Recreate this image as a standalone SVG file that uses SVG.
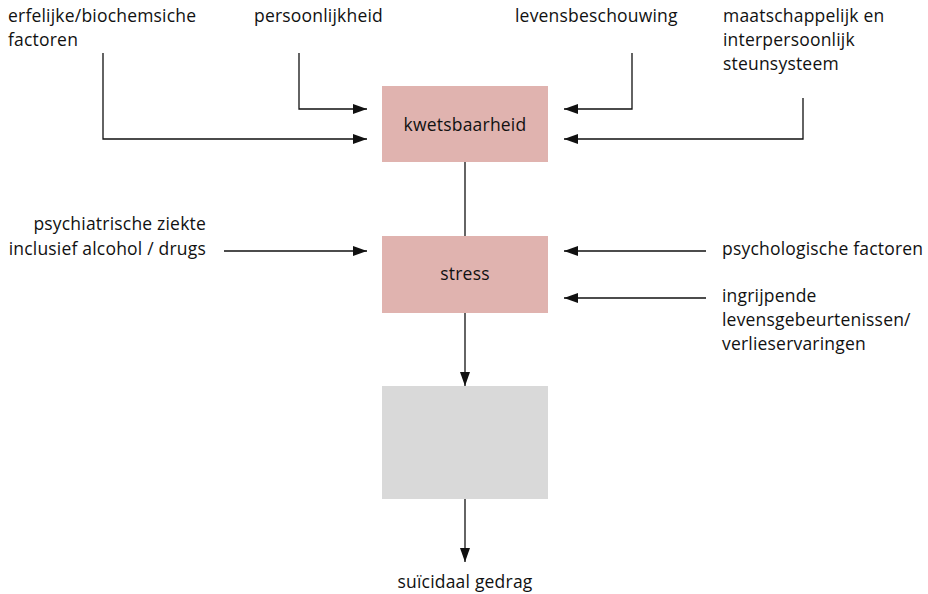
<svg xmlns="http://www.w3.org/2000/svg" width="928" height="594" viewBox="0 0 928 594">
<style>
text{font-family:"Open Sans","Noto Sans",sans-serif;font-size:17.5px;letter-spacing:0.2px;fill:#111}
.c{text-anchor:middle}
.r{text-anchor:end}
.ln{fill:none;stroke:#111;stroke-width:1.3}
.pink{fill:#E0B3AF}
.gray{fill:#D9D9D9}
</style>
<defs>
<marker id="ah" viewBox="0 0 14 10" refX="14" refY="5" markerWidth="14" markerHeight="10" markerUnits="userSpaceOnUse" orient="auto">
<path d="M0,0 L14,5 L0,10 Z" fill="#111"/>
</marker>
</defs>
<g id="connectors">
<path class="ln" d="M299,53 V109 H367" marker-end="url(#ah)"/>
<path class="ln" d="M103,53 V139 H367" marker-end="url(#ah)"/>
<path class="ln" d="M632,53 V109 H564" marker-end="url(#ah)"/>
<path class="ln" d="M803,98 V139 H564" marker-end="url(#ah)"/>
<path class="ln" d="M465,162 V236"/>
<path class="ln" d="M224,251 H367" marker-end="url(#ah)"/>
<path class="ln" d="M706,251 H564" marker-end="url(#ah)"/>
<path class="ln" d="M706,298 H564" marker-end="url(#ah)"/>
<path class="ln" d="M465,313 V386" marker-end="url(#ah)"/>
<path class="ln" d="M465,499 V562" marker-end="url(#ah)"/>
</g>
<g id="kwetsbaarheid">
<rect class="pink" x="382" y="86" width="166" height="76"/>
<text class="c" x="465" y="131">kwetsbaarheid</text>
</g>
<g id="stress">
<rect class="pink" x="382" y="236" width="166" height="77"/>
<text class="c" x="465" y="280">stress</text>
</g>
<g id="gray-box">
<rect class="gray" x="382" y="386" width="166" height="113"/>
</g>
<g id="erfelijke">
<text x="8" y="22">erfelijke/biochemsiche</text>
<text x="8" y="46">factoren</text>
</g>
<g id="persoonlijkheid">
<text x="254" y="22">persoonlijkheid</text>
</g>
<g id="levensbeschouwing">
<text x="515" y="22">levensbeschouwing</text>
</g>
<g id="maatschappelijk">
<text x="723" y="22">maatschappelijk en</text>
<text x="723" y="46">interpersoonlijk</text>
<text x="723" y="70">steunsysteem</text>
</g>
<g id="psychiatrische">
<text class="r" x="206" y="230">psychiatrische ziekte</text>
<text class="r" x="206" y="255">inclusief alcohol / drugs</text>
</g>
<g id="psychologische">
<text x="722" y="255">psychologische factoren</text>
</g>
<g id="ingrijpende">
<text x="722" y="302">ingrijpende</text>
<text x="722" y="326">levensgebeurtenissen/</text>
<text x="722" y="350">verlieservaringen</text>
</g>
<g id="suicidaal">
<text class="c" x="465" y="588">suïcidaal gedrag</text>
</g>
</svg>
